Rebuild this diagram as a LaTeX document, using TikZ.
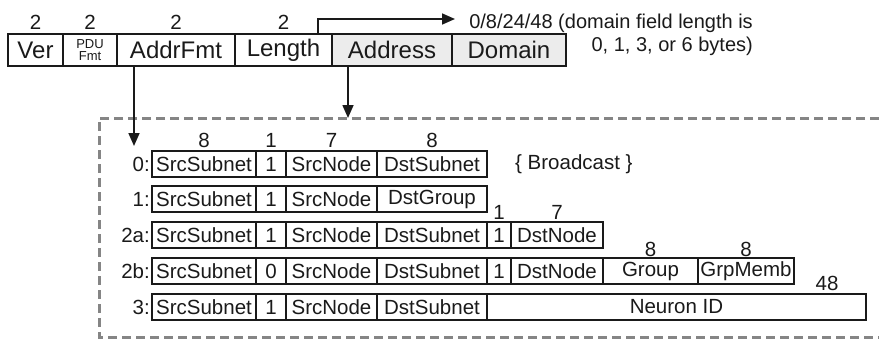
\documentclass[tikz,border=0pt]{standalone}
\usepackage{fontspec}
\setmainfont{Liberation Sans}
\usepackage{tikz}
\usetikzlibrary{arrows.meta,positioning}
\definecolor{ink}{HTML}{1A1A1A}
\definecolor{shade}{HTML}{ECECEC}
\definecolor{framegray}{HTML}{858585}
\newcommand\hdrfont{\fontsize{24}{26}\selectfont}
\newcommand\fldfont{\fontsize{20.5}{22}\selectfont}
\newcommand\pdufont{\fontsize{13}{11.5}\selectfont}

\begin{document}
\begin{tikzpicture}[x=1pt, y=-1pt,
    fld/.style={draw=ink, line width=1.8pt, inner sep=0pt, outer sep=0pt,
                minimum height=26pt, text=ink, font=\fldfont},
    hdr/.style={fld, minimum height=32pt, font=\hdrfont},
    bits/.style={inner sep=0pt, text=ink, font=\fldfont},
    tag/.style={bits, anchor=east},
    wire/.style={draw=ink, line width=1.6pt, -{Triangle[length=13pt,width=11pt]}}]

  \useasboundingbox (0,0) rectangle (879,340);

  % ---- header: the PDU fields, with their sizes in bits above --------------
  \node[hdr, minimum width=55pt, anchor=west] (ver) at (8,50) {Ver};
  \node[hdr, minimum width=54pt, right=0pt of ver, align=center, font=\pdufont] (pdu) {PDU\\Fmt};
  \node[hdr, minimum width=118pt, right=0pt of pdu] (addrfmt) {AddrFmt};
  \node[hdr, minimum width=97pt, right=0pt of addrfmt] (length) {Length};
  \node[hdr, minimum width=120pt, right=0pt of length, fill=shade] (address) {Address};
  \node[hdr, minimum width=114pt, right=0pt of address, fill=shade] (domain) {Domain};
  \foreach \f in {ver,pdu,addrfmt,length}{
    \node[bits, above=4pt of \f] (w\f) {2};}

  % ---- note on the domain length -------------------------------------------
  \node[bits, anchor=north east, align=right, font=\fontsize{20}{23}\selectfont]
    (note) at (753,14) {0/8/24/48 (domain field length is\\0, 1, 3, or 6 bytes)};
  \coordinate (lenend) at (455,19);
  \draw[wire] ([xshift=34.5pt]length.north) |- (lenend);

  % ---- dashed frame round the address formats ------------------------------
  \coordinate (fr) at (99,118);
  \draw[framegray, line width=3pt, dash pattern=on 9pt off 5pt]
    (879,118) -- (fr) -- (99,337) -- (879,337);

  % ---- address formats: one row each ---------------------------------------
  \foreach \r/\y/\m/\d in {0/164/1/DstSubnet, 1/199/1/DstGroup, 2a/235/1/DstSubnet,
                           2b/271/0/DstSubnet, 3/307/1/DstSubnet}{
    \node[tag] (tag\r) at (150,\y) {\r:};
    \node[fld, minimum width=104pt, anchor=west] (sub\r) at (152,\y) {SrcSubnet};
    \node[fld, minimum width=30pt, right=0pt of sub\r] (m\r) {\m};
    \node[fld, minimum width=91pt, right=0pt of m\r] (src\r) {SrcNode};
    \node[fld, minimum width=110pt, right=0pt of src\r] (dst\r) {\d};}
  \foreach \f/\n in {sub0/8, m0/1, src0/7, dst0/8}{
    \node[bits, above=3pt of \f] (w\f) {\n};}
  \node[bits, right=28pt of dst0] (bcast) {\{ Broadcast \}};

  % 2a: node address
  \node[fld, minimum width=24pt, right=0pt of dst2a] (n2a) {1};
  \node[fld, minimum width=92pt, right=0pt of n2a] (dnode2a) {DstNode};
  \foreach \f/\n in {n2a/1, dnode2a/7}{
    \node[bits, above=2.5pt of \f] (w\f) {\n};}

  % 2b: group member address
  \node[fld, minimum width=24pt, right=0pt of dst2b] (n2b) {1};
  \node[fld, minimum width=92pt, right=0pt of n2b] (dnode2b) {DstNode};
  \node[fld, minimum width=95pt, right=0pt of dnode2b] (grp2b) {Group};
  \node[fld, minimum width=96pt, right=0pt of grp2b] (memb2b) {GrpMemb};
  \foreach \f in {grp2b, memb2b}{
    \node[bits, above=1pt of \f] (w\f) {8};}

  % 3: neuron id
  \node[fld, minimum width=379pt, right=0pt of dst3] (nid3) {Neuron ID};
  \node[bits, above=3.5pt of nid3.north east, xshift=-39pt] (wnid3) {48};

  % ---- pointers from the header into the formats ---------------------------
  \coordinate (a0tip) at (134,146);
  \draw[wire] ([xshift=17pt]addrfmt.south west) -- (a0tip);
  \draw[wire] ([xshift=16pt]address.south west) -- ([xshift=16pt]address.south west |- fr);
\end{tikzpicture}
\end{document}
